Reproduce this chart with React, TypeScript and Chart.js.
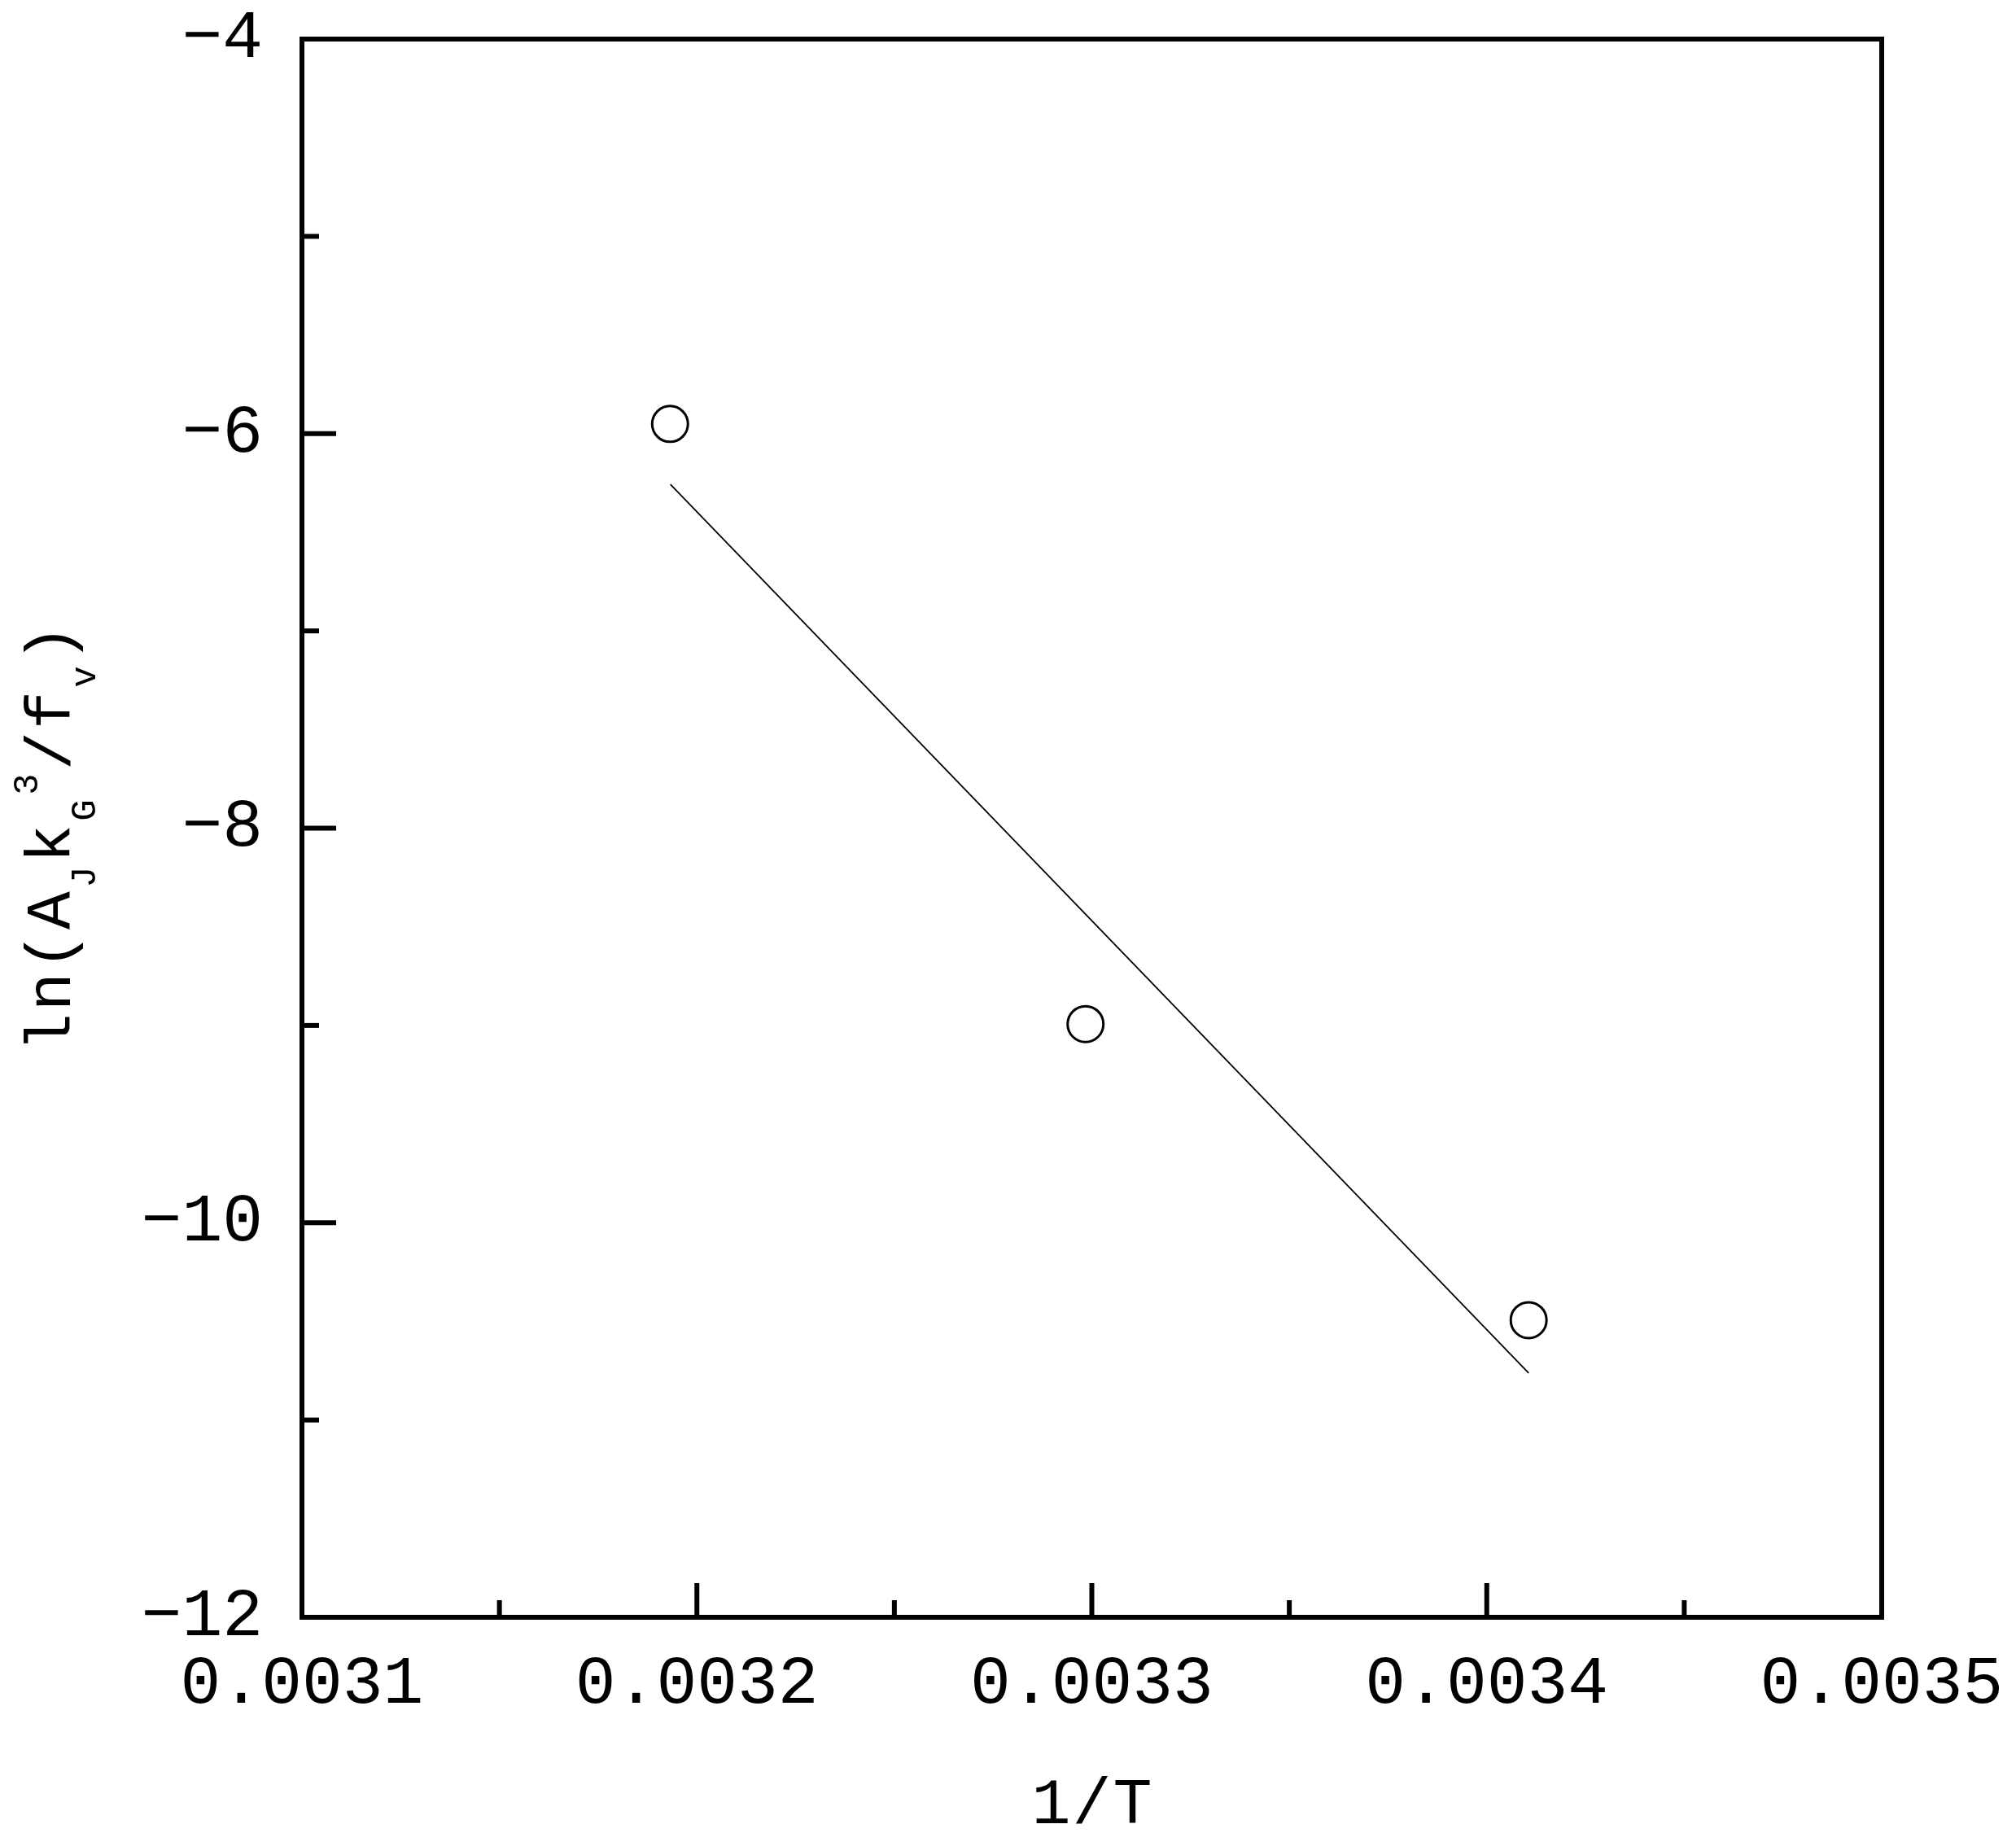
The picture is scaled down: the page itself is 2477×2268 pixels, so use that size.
import React, { useEffect, useRef } from "react";
import { Chart, registerables } from "chart.js";

Chart.register(...registerables);

// ---- data ----
const invT = [0.0031932, 0.0032984, 0.0034106];
const lnValues = [-5.951, -8.993, -10.494];
const fitInvT = [0.0031933, 0.0034106];
const fitLn = [-6.257, -10.762];

const xMajorTicks = [0.0031, 0.0032, 0.0033, 0.0034, 0.0035];
const xMinorTicks = [0.00315, 0.00325, 0.00335, 0.00345];
const yMajorTicks = [-12, -10, -8, -6, -4];
const yMinorTicks = [-11, -9, -7, -5];

const xTitle = "1/T";
const yTitleParts: { text: string; kind: "main" | "sub" | "sup" }[] = [
  { text: "ln(A", kind: "main" },
  { text: "J", kind: "sub" },
  { text: "k", kind: "main" },
  { text: "G", kind: "sub" },
  { text: "3", kind: "sup" },
  { text: "/f", kind: "main" },
  { text: "v", kind: "sub" },
  { text: ")", kind: "main" },
];

const FONT = "'Liberation Mono', 'DejaVu Sans Mono', monospace";

const framePlugin = {
  id: "framePlugin",
  beforeDraw(chart: any) {
    const { ctx, width, height } = chart;
    ctx.save();
    ctx.fillStyle = "#fff";
    ctx.fillRect(0, 0, width, height);
    ctx.restore();
  },
  afterDraw(chart: any) {
    const { ctx, chartArea: a, scales } = chart;
    const xs = scales.x;
    const ys = scales.y;
    ctx.save();
    ctx.strokeStyle = "#000";
    ctx.lineWidth = 6;
    ctx.lineJoin = "miter";
    ctx.strokeRect(a.left, a.top, a.right - a.left, a.bottom - a.top);
    const line = (x1: number, y1: number, x2: number, y2: number) => {
      ctx.beginPath();
      ctx.moveTo(x1, y1);
      ctx.lineTo(x2, y2);
      ctx.stroke();
    };
    ctx.lineCap = "butt";
    xMajorTicks.forEach((v) => {
      const p = xs.getPixelForValue(v);
      line(p, a.bottom, p, a.bottom - 42);
    });
    xMinorTicks.forEach((v) => {
      const p = xs.getPixelForValue(v);
      line(p, a.bottom, p, a.bottom - 21);
    });
    yMajorTicks.forEach((v) => {
      const p = ys.getPixelForValue(v);
      line(a.left, p, a.left + 42, p);
    });
    yMinorTicks.forEach((v) => {
      const p = ys.getPixelForValue(v);
      line(a.left, p, a.left + 21, p);
    });

    // x title
    ctx.fillStyle = "#000";
    ctx.font = `80px ${FONT}`;
    ctx.textAlign = "center";
    ctx.textBaseline = "alphabetic";
    const adv = ctx.measureText("M").width;
    (ctx as any).letterSpacing = `${50 - adv}px`;
    ctx.fillText(xTitle, (a.left + a.right) / 2 + (50 - adv) / 2, a.bottom + 253);
    (ctx as any).letterSpacing = "0px";
    ctx.restore();

    // y title (rotated, with sub/superscripts)
    const mainSize = 78;
    const subSize = 44;
    const mainPitch = 50;
    const subPitch = 32;
    const baseX = 86;
    let total = 0;
    yTitleParts.forEach((p) => {
      total += p.text.length * (p.kind === "main" ? mainPitch : subPitch);
    });
    const startY = (a.top + a.bottom) / 2 + 12 + total / 2;
    let pos = 0;
    yTitleParts.forEach((p) => {
      const size = p.kind === "main" ? mainSize : subSize;
      const pitch = p.kind === "main" ? mainPitch : subPitch;
      const shift = p.kind === "main" ? 0 : p.kind === "sub" ? 31 : -40;
      ctx.save();
      ctx.fillStyle = "#000";
      ctx.font = `${size}px ${FONT}`;
      ctx.textAlign = "left";
      ctx.textBaseline = "alphabetic";
      (ctx as any).letterSpacing = "0px";
      const w = ctx.measureText("M").width;
      (ctx as any).letterSpacing = `${pitch - w}px`;
      ctx.translate(baseX + shift, startY - pos - (pitch - w) / 2);
      ctx.rotate(-Math.PI / 2);
      ctx.fillText(p.text, 0, 0);
      ctx.restore();
      pos += p.text.length * pitch;
    });
  },
};

export default function App() {
  const ref = useRef<HTMLCanvasElement | null>(null);
  useEffect(() => {
    if (!ref.current) return;
    const chart = new Chart(ref.current, {
      type: "scatter",
      data: {
        datasets: [
          {
            type: "scatter",
            data: invT.map((x, i) => ({ x, y: lnValues[i] })),
            pointStyle: "circle",
            pointRadius: 22,
            pointHoverRadius: 22,
            borderColor: "#000",
            backgroundColor: "rgba(0,0,0,0)",
            borderWidth: 3,
          },
          {
            type: "line",
            data: fitInvT.map((x, i) => ({ x, y: fitLn[i] })),
            borderColor: "#000",
            borderWidth: 1.8,
            pointRadius: 0,
            fill: false,
            tension: 0,
          },
        ],
      } as any,
      options: {
        responsive: false,
        animation: false,
        devicePixelRatio: 1,
        layout: { padding: { left: 0, top: 48, right: 165, bottom: 0 } },
        plugins: { legend: { display: false }, tooltip: { enabled: false } },
        events: [],
        scales: {
          x: {
            type: "linear",
            min: 0.0031,
            max: 0.0035,
            grid: { display: false, drawTicks: false },
            border: { display: false },
            ticks: {
              color: "#000",
              font: { family: FONT, size: 83 },
              padding: 33,
              maxRotation: 0,
              autoSkip: false,
              callback: (v: any) => Number(v).toFixed(4),
            },
            afterBuildTicks: (s: any) => {
              s.ticks = xMajorTicks.map((v) => ({ value: v }));
            },
            afterFit: (s: any) => {
              s.height = 281;
              s.paddingLeft = 0;
              s.paddingRight = 0;
            },
          },
          y: {
            type: "linear",
            min: -12,
            max: -4,
            grid: { display: false, drawTicks: false },
            border: { display: false },
            ticks: {
              color: "#000",
              font: { family: FONT, size: 83 },
              padding: 48,
              autoSkip: false,
              callback: (v: any) => {
                const n = Number(v);
                return n < 0 ? "\u2212" + Math.abs(n) : String(n);
              },
            },
            afterBuildTicks: (s: any) => {
              s.ticks = yMajorTicks.map((v) => ({ value: v }));
            },
            afterFit: (s: any) => {
              s.width = 371;
              s.paddingTop = 0;
              s.paddingBottom = 0;
            },
          },
        },
      } as any,
      plugins: [framePlugin],
    });
    return () => chart.destroy();
  }, []);
  return (
    <div style={{ position: "fixed", left: 0, top: 0, width: 2477, height: 2268, background: "#fff" }}>
      <canvas ref={ref} width={2477} height={2268} style={{ display: "block", width: 2477, height: 2268 }} />
    </div>
  );
}
